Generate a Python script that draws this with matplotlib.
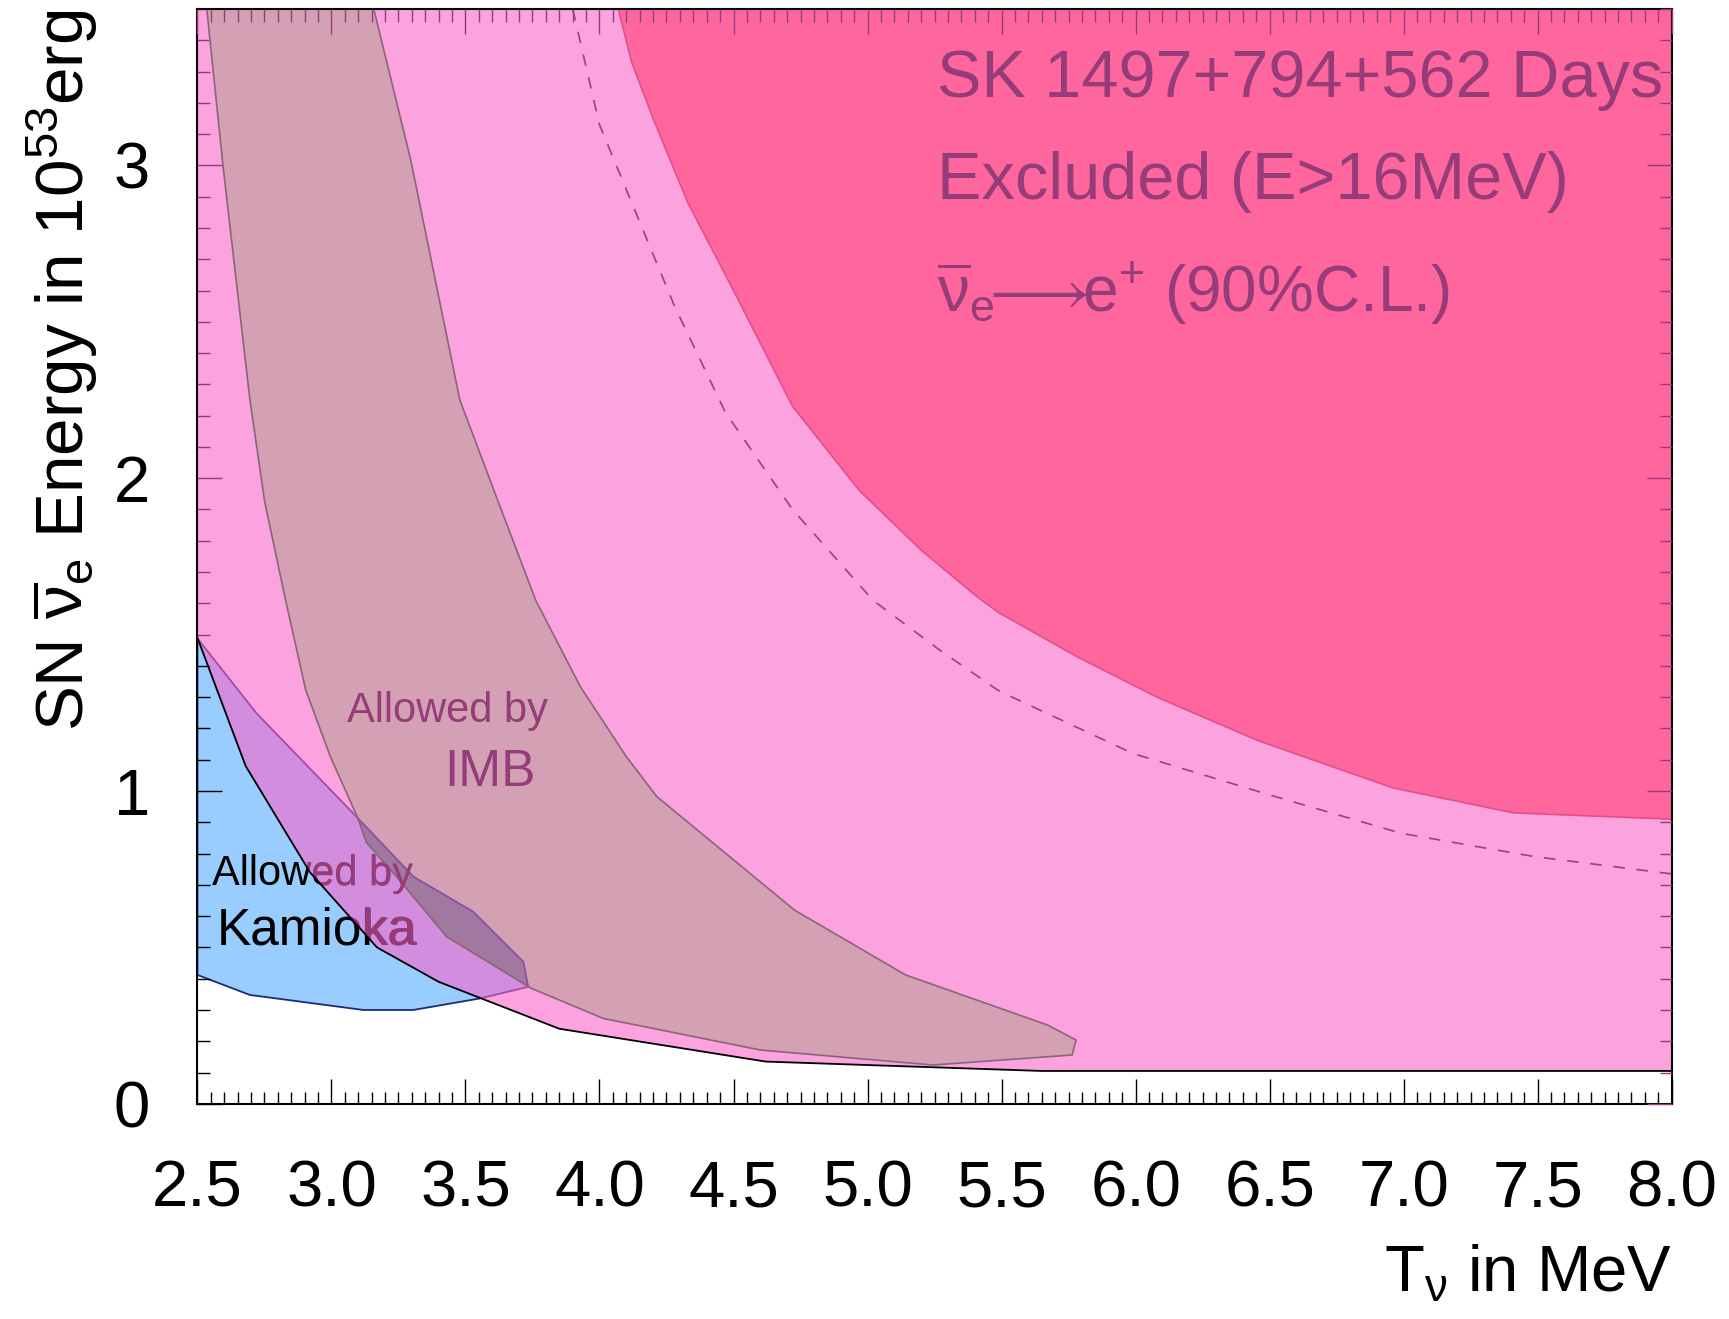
import matplotlib
matplotlib.use('Agg')
import matplotlib.pyplot as plt
from matplotlib.patches import Polygon, PathPatch
from matplotlib.ticker import MultipleLocator, FixedLocator
from matplotlib.textpath import TextPath
from matplotlib.font_manager import FontProperties
import matplotlib.transforms as mtransforms
import numpy as np

plt.rcParams['font.family'] = ['Liberation Sans', 'DejaVu Sans']
plt.rcParams['mathtext.fontset'] = 'custom'
plt.rcParams['mathtext.rm'] = 'Liberation Sans'
plt.rcParams['mathtext.it'] = 'Liberation Sans'
plt.rcParams['mathtext.sf'] = 'Liberation Sans'
plt.rcParams['mathtext.bf'] = 'Liberation Sans:bold'

# ---------------- data ----------------
x_range = (2.5, 8.0)
y_range = (0.0, 3.5)
x_ticks = [2.5, 3.0, 3.5, 4.0, 4.5, 5.0, 5.5, 6.0, 6.5, 7.0, 7.5, 8.0]
x_ticklabels = ['2.5', '3.0', '3.5', '4.0', '4.5', '5.0', '5.5', '6.0', '6.5', '7.0', '7.5', '8.0']
y_ticks = [0, 1, 2, 3]
y_ticklabels = ['0', '1', '2', '3']

# lower edge of the light-pink region (black line)
excl_x = [2.50, 2.68, 2.92, 3.17, 3.40, 3.85, 4.62, 5.65, 8.00]
excl_y = [1.49, 1.08, 0.74, 0.50, 0.39, 0.24, 0.135, 0.105, 0.105]

# SK excluded region (dark pink), lower-left boundary
sk_x = [4.07, 4.12, 4.20, 4.33, 4.50, 4.72, 4.97, 5.20, 5.41, 5.49, 5.78, 6.08, 6.46, 6.96, 7.41, 8.00]
sk_y = [3.50, 3.33, 3.15, 2.88, 2.60, 2.23, 1.96, 1.77, 1.62, 1.57, 1.43, 1.30, 1.16, 1.01, 0.93, 0.91]

# dashed curve
dash_x = [3.90, 4.00, 4.14, 4.28, 4.47, 4.72, 5.02, 5.27, 5.49, 5.99, 6.49, 6.99, 7.49, 8.00]
dash_y = [3.50, 3.13, 2.84, 2.55, 2.21, 1.90, 1.61, 1.45, 1.32, 1.12, 0.99, 0.865, 0.79, 0.735]

# IMB allowed region
imb_x = [2.535, 2.596, 2.696, 2.751, 2.829, 2.904, 2.996, 3.096, 3.131, 3.243, 3.430,
         3.746, 4.014, 4.600, 5.243, 5.763, 5.778, 5.671, 5.142, 4.728, 4.214, 4.100,
         3.929, 3.762, 3.620, 3.479, 3.296, 3.158]
imb_y = [3.50, 2.995, 2.25, 1.925, 1.610, 1.323, 1.110, 0.918, 0.835, 0.726, 0.534,
         0.369, 0.273, 0.172, 0.124, 0.156, 0.204, 0.252, 0.412, 0.619, 0.982, 1.110,
         1.333, 1.610, 1.930, 2.25, 3.017, 3.50]

# Kamioka allowed region
kam_x = [2.500, 2.721, 3.082, 3.306, 3.529, 3.716, 3.734, 3.555, 3.306, 3.119, 2.696, 2.500]
kam_y = [1.488, 1.248, 0.928, 0.726, 0.614, 0.454, 0.374, 0.337, 0.300, 0.300, 0.348, 0.412]

sk_lines = ['SK 1497+794+562 Days', 'Excluded (E>16MeV)',
            r'$\overline{\nu}_{e}\!\!\longrightarrow\!\!$e$^{+}$ (90%C.L.)']

# ---------------- style ----------------
purple = '#963C78'
blue = '#99CCFF'
navy = '#1E2A78'
pink_rgb = (250 / 255, 100 / 255, 200 / 255)
imb_col = '#D4A0B4'
imb_edge = '#8C6478'
overlap_col = '#A078A0'
sk_col = '#FF669E'
sk_edge = '#E0508A'

fig = plt.figure(figsize=(17.29, 13.19), dpi=100)
ax = fig.add_axes([0.11417, 0.16315, 0.85269, 0.83002])
ax.set_xlim(*x_range)
ax.set_ylim(*y_range)

ax.xaxis.set_major_locator(FixedLocator(x_ticks))
ax.set_xticklabels(x_ticklabels)
ax.xaxis.set_minor_locator(MultipleLocator(0.05))
ax.yaxis.set_major_locator(FixedLocator(y_ticks))
ax.set_yticklabels(y_ticklabels)
ax.yaxis.set_minor_locator(MultipleLocator(0.1))
ax.tick_params(which='both', direction='in', top=False, right=False, color='black')
ax.tick_params(which='major', length=18, width=1.0, labelsize=47)
ax.tick_params(which='minor', length=9, width=1.0)
ax.tick_params(axis='x', which='major', pad=40)
ax.tick_params(axis='y', which='major', pad=34)
ax.xaxis.set_zorder(1.5)
ax.yaxis.set_zorder(1.5)
for s in ax.spines.values():
    s.set_zorder(20)
    s.set_linewidth(1.5)
    s.set_color('black')

# Kamioka region (under the pink)
kam_pts = np.column_stack([kam_x, kam_y])
ax.add_patch(Polygon(kam_pts, closed=True, fc=blue, ec=navy, lw=1.3, zorder=1))
kam_text = [(2.553, 0.698, 'Allowed by', 30), (2.574, 0.508, 'Kamioka', 37)]
for tx, ty, s, fs in kam_text:
    ax.text(tx, ty, s, fontsize=fs, color='black', zorder=2)

# light pink region (translucent)
pink_pts = list(zip(excl_x, excl_y)) + [(x_range[1], y_range[1]), (x_range[0], y_range[1])]
pink_patch = Polygon(pink_pts, closed=True, fc=pink_rgb, alpha=0.6, ec='none', zorder=3)
ax.add_patch(pink_patch)

# IMB region
imb_pts = np.column_stack([imb_x, imb_y])
imb_patch = Polygon(imb_pts, closed=True, fc=imb_col, ec='none', zorder=4)
ax.add_patch(imb_patch)
ov = Polygon(kam_pts, closed=True, fc=overlap_col, ec='#8A50A8', lw=1.3, zorder=4.5)
ax.add_patch(ov)
ov.set_clip_path(imb_patch)
ax.add_patch(Polygon(imb_pts, closed=True, fill=False, ec=imb_edge, lw=1.2, zorder=4.6))

# Kamioka text as seen through the pink layer (outline copy clipped to the pink region)
for tx, ty, s, fs in kam_text:
    tp = TextPath((0, 0), s, prop=FontProperties(family='Liberation Sans', size=fs))
    tr = mtransforms.Affine2D().scale(fig.dpi / 72.0) + mtransforms.ScaledTranslation(tx, ty, ax.transData)
    pp = PathPatch(tp, fc=purple, ec='none', transform=tr, zorder=4.8)
    ax.add_patch(pp)
    pp.set_clip_path(pink_patch)

# SK dark pink region
sk_pts = list(zip(sk_x, sk_y)) + [(x_range[1], y_range[1])]
ax.add_patch(Polygon(sk_pts, closed=True, fc=sk_col, ec=sk_edge, lw=1.2, zorder=5))

# dashed curve
ax.plot(dash_x, dash_y, color='#8A4A7A', lw=1.2, ls=(0, (7, 7)), zorder=6)

# black boundary line
ax.plot(excl_x, excl_y, color='black', lw=1.3, zorder=7)

# texts
ax.text(5.26, 3.218, sk_lines[0], fontsize=48, color=purple, zorder=8)
ax.text(5.26, 2.894, sk_lines[1], fontsize=48, color=purple, zorder=8)
ax.text(5.26, 2.531, sk_lines[2], fontsize=46, color=purple, zorder=8)
ax.text(3.059, 1.22, 'Allowed by', fontsize=30, color=purple, zorder=8)
ax.text(3.421, 1.015, 'IMB', fontsize=37, color=purple, zorder=8)

# axis labels
ax.set_ylabel(r'SN $\overline{\nu}_{e}$ Energy in 10$^{53}$erg', fontsize=48.5, loc='top')
ax.yaxis.set_label_coords(-0.066, 1.0)
ax.set_xlabel(r'T$_{\nu}$ in MeV', fontsize=47, loc='right')
ax.xaxis.set_label_coords(1.0, -0.128)

# overlay axes for the top / right ticks (drawn on top of everything)
ax2 = fig.add_axes(ax.get_position(), sharex=ax, sharey=ax)
ax2.patch.set_visible(False)
for s in ax2.spines.values():
    s.set_visible(False)
ax2.tick_params(which='both', direction='in', bottom=False, left=False, top=True, right=True,
                labelbottom=False, labelleft=False, labeltop=False, labelright=False, color=purple)
ax2.tick_params(which='major', length=18, width=1.0)
ax2.tick_params(which='minor', length=9, width=1.0)
ax2.set_zorder(ax.get_zorder() + 1)

fig.savefig('out.png', dpi=100)
